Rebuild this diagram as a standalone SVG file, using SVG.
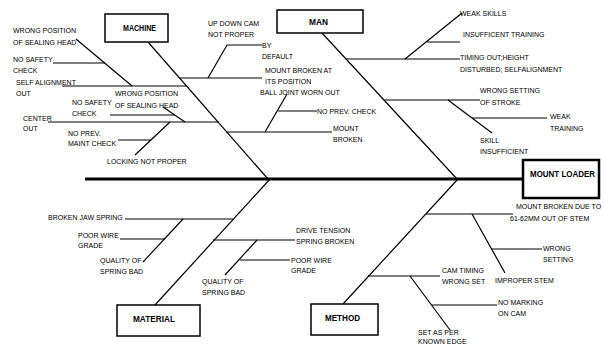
<svg xmlns="http://www.w3.org/2000/svg" width="605" height="344" viewBox="0 0 605 344">
<style>
text{font-family:"Liberation Sans",Arial,sans-serif;font-size:7px;fill:#000}
.b{font-weight:bold;font-size:9px}
.box{fill:#fff;stroke:#000;stroke-width:1.5}
.ln{stroke:#000;stroke-width:1.2;fill:none}
</style>
<rect width="605" height="344" fill="#fff"/>
<g id="connectors">
<line x1="85" y1="179" x2="523" y2="179" stroke="#000" stroke-width="3"/>
<line class="ln" x1="148" y1="42" x2="268" y2="179"/>
<line class="ln" x1="180" y1="78" x2="262" y2="78"/>
<polyline class="ln" points="208,78 227,45 262,45"/>
<line class="ln" x1="62" y1="86" x2="186" y2="86"/>
<line class="ln" x1="76" y1="39" x2="132" y2="86"/>
<line class="ln" x1="53" y1="63" x2="105" y2="63"/>
<line class="ln" x1="48" y1="122" x2="219" y2="122"/>
<line class="ln" x1="110" y1="115" x2="175" y2="115"/>
<line class="ln" x1="163" y1="107" x2="185" y2="122"/>
<line class="ln" x1="135" y1="155" x2="170" y2="122"/>
<line class="ln" x1="118" y1="140" x2="151" y2="140"/>
<line class="ln" x1="226" y1="132" x2="332" y2="132"/>
<line class="ln" x1="287" y1="94" x2="265" y2="132"/>
<line class="ln" x1="278" y1="111" x2="317" y2="111"/>
<line class="ln" x1="322" y1="33" x2="457" y2="179"/>
<line class="ln" x1="346" y1="59" x2="460" y2="59"/>
<line class="ln" x1="405" y1="59" x2="462" y2="13"/>
<line class="ln" x1="427" y1="42" x2="460" y2="42"/>
<line class="ln" x1="384" y1="100" x2="480" y2="100"/>
<line class="ln" x1="448" y1="100" x2="492" y2="133"/>
<line class="ln" x1="472" y1="118" x2="547" y2="118"/>
<line class="ln" x1="270" y1="179" x2="155" y2="305"/>
<line class="ln" x1="125" y1="219" x2="233" y2="219"/>
<line class="ln" x1="183" y1="219" x2="143" y2="262"/>
<line class="ln" x1="120" y1="239" x2="165" y2="239"/>
<line class="ln" x1="213" y1="240" x2="295" y2="240"/>
<line class="ln" x1="257" y1="240" x2="225" y2="275"/>
<line class="ln" x1="240" y1="260" x2="290" y2="260"/>
<line class="ln" x1="458" y1="179" x2="343" y2="304"/>
<line class="ln" x1="426" y1="214" x2="513" y2="214"/>
<line class="ln" x1="472" y1="214" x2="505" y2="273"/>
<line class="ln" x1="492" y1="249" x2="542" y2="249"/>
<line class="ln" x1="368" y1="276" x2="440" y2="276"/>
<line class="ln" x1="410" y1="276" x2="450" y2="330"/>
<line class="ln" x1="432" y1="305" x2="497" y2="305"/>
</g>
<g id="machine"><rect class="box" x="105" y="14" width="63" height="28"/><text class="b" x="123" y="31" textLength="33" lengthAdjust="spacingAndGlyphs">MACHINE</text></g>
<g id="man"><rect class="box" x="277" y="10" width="86" height="23"/><text class="b" x="309" y="24.5" textLength="19" lengthAdjust="spacingAndGlyphs">MAN</text></g>
<g id="mount-loader"><rect x="523" y="160" width="76" height="38" fill="#fff" stroke="#000" stroke-width="2.5"/><text class="b" x="530" y="176.5" textLength="65" lengthAdjust="spacingAndGlyphs">MOUNT LOADER</text></g>
<g id="material"><rect class="box" x="117" y="305" width="83" height="31"/><text class="b" x="133" y="321.5" textLength="42" lengthAdjust="spacingAndGlyphs">MATERIAL</text></g>
<g id="method"><rect class="box" x="311" y="304" width="67" height="31"/><text class="b" x="325" y="321" textLength="35" lengthAdjust="spacingAndGlyphs">METHOD</text></g>
<g id="labels">
<text x="13" y="32.5">WRONG POSITION</text><text x="13" y="44.5">OF SEALING HEAD</text>
<text x="13" y="61.5">NO SAFETY</text><text x="13" y="72.5">CHECK</text>
<text x="16" y="84.5">SELF ALIGNMENT</text><text x="16" y="95.5">OUT</text>
<text x="208" y="26">UP DOWN CAM</text><text x="208" y="37">NOT PROPER</text>
<text x="262" y="47.5">BY</text><text x="262" y="59">DEFAULT</text>
<text x="265" y="73">MOUNT BROKEN AT</text><text x="265" y="83.5">ITS POSITION</text>
<text x="260" y="95">BALL JOINT WORN OUT</text>
<text x="115" y="95.5">WRONG POSITION</text><text x="115" y="107.5">OF SEALING HEAD</text>
<text x="72" y="105">NO SAFETY</text><text x="72" y="116">CHECK</text>
<text x="23" y="121">CENTER</text><text x="23" y="131">OUT</text>
<text x="68" y="135.5">NO PREV.</text><text x="68" y="145.5">MAINT CHECK</text>
<text x="107" y="163.5">LOCKING NOT PROPER</text>
<text x="317" y="113.5">NO PREV. CHECK</text>
<text x="333" y="130.5">MOUNT</text><text x="333" y="141.5">BROKEN</text>
<text x="460" y="15.5">WEAK SKILLS</text>
<text x="463" y="36.5">INSUFFICENT TRAINING</text>
<text x="460" y="59.5">TIMING OUT;HEIGHT</text><text x="460" y="71.5">DISTURBED; SELFALIGNMENT</text>
<text x="480" y="92.5">WRONG SETTING</text><text x="480" y="105">OF STROKE</text>
<text x="550" y="119">WEAK</text><text x="550" y="131">TRAINING</text>
<text x="480" y="143">SKILL</text><text x="480" y="153.5">INSUFFICIENT</text>
<text x="48" y="220">BROKEN JAW SPRING</text>
<text x="78" y="237.5">POOR WIRE</text><text x="78" y="247.5">GRADE</text>
<text x="100" y="263">QUALITY OF</text><text x="100" y="274">SPRING BAD</text>
<text x="296" y="233">DRIVE TENSION</text><text x="296" y="244">SPRING BROKEN</text>
<text x="291" y="262.5">POOR WIRE</text><text x="291" y="273">GRADE</text>
<text x="202" y="284">QUALITY OF</text><text x="202" y="295">SPRING BAD</text>
<text x="516" y="209">MOUNT BROKEN DUE TO</text><text x="510" y="221">61-62MM OUT OF STEM</text>
<text x="543" y="251">WRONG</text><text x="543" y="262">SETTING</text>
<text x="495" y="282.5">IMPROPER STEM</text>
<text x="442" y="273">CAM TIMING</text><text x="442" y="284">WRONG SET</text>
<text x="498" y="305">NO MARKING</text><text x="498" y="316">ON CAM</text>
<text x="418" y="335">SET AS PER</text><text x="418" y="344">KNOWN EDGE</text>
</g>
</svg>
